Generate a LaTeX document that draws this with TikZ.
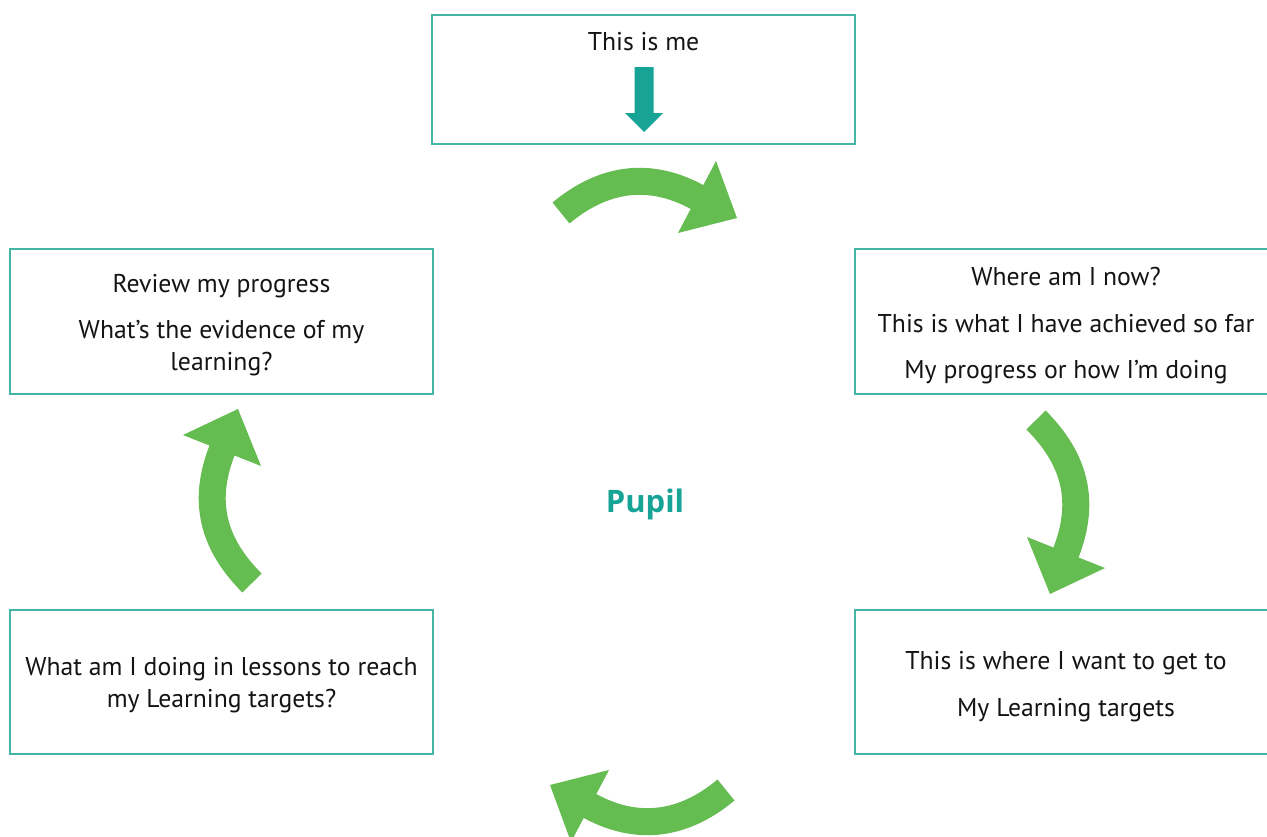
\documentclass[tikz,border=0pt]{standalone}
\usepackage{fontspec}
\setmainfont{PT Sans}
\newfontfamily\pupilfont{Open Sans}
\definecolor{boxteal}{HTML}{45B5A5}
\definecolor{tealdark}{HTML}{17A396}
\definecolor{arrgreen}{HTML}{65BC50}
\tikzset{
  box/.style={draw=boxteal, line width=1.5pt, rectangle, inner sep=0pt, minimum width=423pt},
  txt/.style={font=\fontsize{25.7}{30}\selectfont, anchor=base, inner sep=0pt, text=black!92},
  shaft/.style={draw=arrgreen, line width=27pt, line cap=butt},
  ahead/.style={fill=arrgreen},
}
\begin{document}
\begin{tikzpicture}[x=1pt, y=-1pt]
\path[use as bounding box, clip] (0,0) rectangle (1267,836);
\fill[white] (0,0) rectangle (1267,836);

% boxes
\node[box, minimum height=129pt] (topbox) at (643.5,79.5) {};
\node[box, minimum height=145pt] (rubox) at (1066.5,321.5) {};
\node[box, minimum height=145pt] (lubox) at (221.5,321.5) {};
\node[box, minimum height=144pt] (llbox) at (221.5,682) {};
\node[box, minimum height=144pt] (rlbox) at (1066.5,682) {};

% texts
\node[txt] (t0) at (643.5,50) {This is me};
\node[txt] (t1) at (1066,285) {Where am I now?};
\node[txt] (t2) at (1066,332) {This is what I have achieved so far};
\node[txt] (t3) at (1066,378) {My progress or how I’m doing};
\node[txt] (t4) at (1066,669) {This is where I want to get to};
\node[txt] (t5) at (1066,716) {My Learning targets};
\node[txt] (t6) at (221.5,675) {What am I doing in lessons to reach};
\node[txt] (t7) at (221.5,707) {my Learning targets?};
\node[txt] (t8) at (221.5,292) {Review my progress};
\node[txt] (t9) at (221.5,338) {What’s the evidence of my};
\node[txt] (t10) at (221.5,370) {learning?};
\node[txt, font=\pupilfont\bfseries\fontsize{31}{36}\selectfont, text=tealdark] (pupil) at (645,512) {Pupil};

% teal down arrow in top box
\fill[tealdark] (634.5,67) -- (653.5,67) -- (653.5,113) -- (663,113) -- (644,132) -- (625,113) -- (634.5,113) -- cycle;

% top curved arrow
\draw[shaft] (561,213) .. controls (603,178) and (649,171) .. (697,197) -- (701,199);
\fill[ahead] (716,161) -- (737,218) -- (678,233) -- cycle;
% right curved arrow
\draw[shaft] (1036,420) .. controls (1075,459) and (1086,501) .. (1066,552.5) -- (1064.5,556.5);
\fill[ahead] (1027,537) -- (1050,594) -- (1105,568) -- cycle;
% bottom curved arrow
\draw[shaft] (726,790) .. controls (684,825) and (638,832) .. (590,806) -- (586,804);
\fill[ahead] (571,842) -- (550,785) -- (609,770) -- cycle;
% left curved arrow
\draw[shaft] (252,583) .. controls (213,544) and (202,502) .. (222,450.5) -- (223.5,446.5);
\fill[ahead] (261,466) -- (238,409) -- (183,435) -- cycle;
\end{tikzpicture}
\end{document}
